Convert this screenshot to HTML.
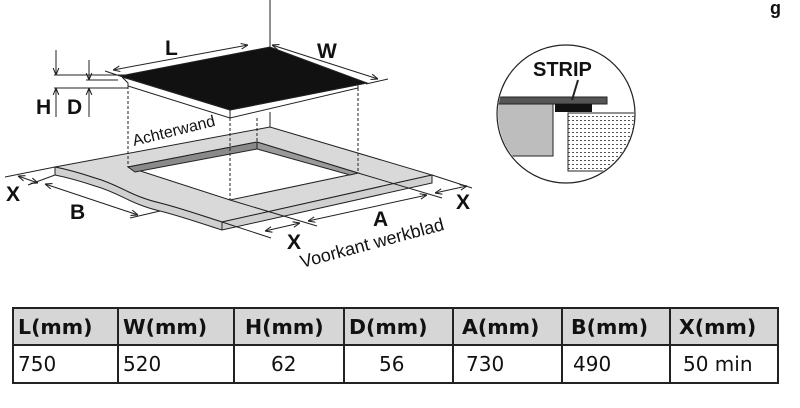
<!DOCTYPE html>
<html><head><meta charset="utf-8"><style>
body{margin:0;background:#fff;width:800px;height:408px;overflow:hidden;font-family:"DejaVu Sans",sans-serif}
svg{position:absolute;left:0;top:0}
table{position:absolute;left:12px;top:307px;border-collapse:collapse}
td{border:2px solid #222;height:38px;padding:0 0 0 4px;font-size:20px;color:#111;box-sizing:border-box;white-space:nowrap}
tr.h td{background:#d6d6d6;font-weight:bold;height:37px;font-size:20.5px}
</style></head><body>
<svg width="800" height="408" viewBox="0 0 800 408">
<defs><marker id="a" viewBox="0 0 10 10" refX="10" refY="5" markerWidth="7" markerHeight="7" orient="auto-start-reverse"><path d="M0,1L10,5L0,9" fill="none" stroke="#222" stroke-width="1.5"/></marker>
<pattern id="p" width="4" height="4" patternUnits="userSpaceOnUse"><rect width="4" height="4" fill="#fff"/><rect width="2" height="1" fill="#555"/></pattern></defs>
<g stroke="#222" stroke-width="1" fill="none">
<path d="M55,167 L270,127 L432,175 L222,222 C200,215 180,208 160,203 C130,196 120,185 95,178 C80,173 70,170 55,167Z" fill="#d9d9d9"/>
<path d="M55,167 L55,175 C70,178 80,181 95,186 C120,193 130,204 160,211 C180,216 200,223 222,230 L432,183 L432,175 L222,222 C200,215 180,208 160,203 C130,196 120,185 95,178 C80,173 70,170 55,167Z" fill="#d0d0d0"/>
<line x1="222" y1="222" x2="222" y2="230"/>
<path d="M128,167 L257,142 L358,173 L230,200Z" fill="#fff"/>
<path d="M128,167 L257,142 L257,149 L135,172Z" fill="#8a8a8a"/>
<path d="M257,142 L358,173 L350,175 L257,149Z" fill="#9a9a9a"/>
<line x1="5" y1="177" x2="55" y2="167"/>
<line x1="230" y1="200" x2="317" y2="226"/>
<line x1="358" y1="173" x2="442" y2="198"/>
<line x1="222" y1="222" x2="271" y2="238"/>
<line x1="432" y1="175" x2="472" y2="188"/>
<line x1="28" y1="185" x2="55" y2="175"/>
<line x1="130" y1="218" x2="160" y2="211"/>
<line x1="18" y1="176" x2="38" y2="183" marker-start="url(#a)" marker-end="url(#a)"/>
<line x1="45" y1="184" x2="138" y2="215" marker-start="url(#a)" marker-end="url(#a)"/>
<line x1="265" y1="231" x2="300" y2="223" marker-start="url(#a)" marker-end="url(#a)"/>
<line x1="308" y1="221" x2="427" y2="195" marker-start="url(#a)" marker-end="url(#a)"/>
<line x1="435" y1="193" x2="467" y2="186" marker-start="url(#a)" marker-end="url(#a)"/>
<g stroke-dasharray="3,2"><line x1="128" y1="86" x2="128" y2="167"/><line x1="230" y1="118" x2="230" y2="200"/><line x1="257" y1="118" x2="257" y2="142"/><line x1="358" y1="88" x2="358" y2="173"/></g>
<line x1="270" y1="0" x2="270" y2="47"/>
<line x1="270" y1="112" x2="270" y2="127"/>
<path d="M122,77 L128,83 L128,86 L230,118 L358,88 L358,83 L367,83 L230,110 Z" fill="#fff"/>
<line x1="230" y1="110" x2="230" y2="118"/>
<path d="M120,76 L270,47 L367,83 L230,110Z" fill="#111"/>
<line x1="105" y1="71" x2="120" y2="76"/>
<line x1="113" y1="70" x2="248" y2="45" marker-start="url(#a)" marker-end="url(#a)"/>
<line x1="272" y1="45" x2="378" y2="79" marker-start="url(#a)" marker-end="url(#a)"/>
<line x1="366" y1="84" x2="388" y2="79"/>
<line x1="54" y1="75" x2="128" y2="75"/><line x1="54" y1="88" x2="128" y2="88"/><line x1="86" y1="80" x2="118" y2="80"/>
<line x1="56" y1="50" x2="56" y2="75" marker-end="url(#a)"/><line x1="56" y1="117" x2="56" y2="88" marker-end="url(#a)"/>
<line x1="89" y1="60" x2="89" y2="80" marker-end="url(#a)"/><line x1="89" y1="117" x2="89" y2="88" marker-end="url(#a)"/>
</g>
<g font-family="Liberation Sans,sans-serif" font-weight="bold" font-size="21" fill="#111">
<text x="165" y="55">L</text><text x="317" y="58">W</text><text x="36" y="114">H</text><text x="67" y="114">D</text>
<text x="6" y="201">X</text><text x="70" y="219">B</text><text x="373" y="226">A</text><text x="287" y="249">X</text><text x="456" y="209">X</text>
</g>
<g font-family="Liberation Sans,sans-serif" font-size="16" fill="#111">
<text transform="translate(134,146) rotate(-14)">Achterwand</text>
<text transform="translate(302,268) rotate(-15)" font-size="18">Voorkant werkblad</text>
</g>
<circle cx="566" cy="114" r="69" fill="#fff" stroke="#222" stroke-width="1.2"/>
<clipPath id="c"><circle cx="566" cy="114" r="68"/></clipPath>
<g clip-path="url(#c)">
<rect x="495" y="97" width="112" height="7" fill="#555" stroke="#222"/>
<rect x="555" y="104" width="37" height="8" fill="#111"/>
<rect x="495" y="104" width="58" height="52" fill="#bdbdbd" stroke="#222"/>
<rect x="568" y="113" width="70" height="58" fill="url(#p)" stroke="#222"/>
</g>
<line x1="578" y1="80" x2="572" y2="100" stroke="#222" stroke-width="2"/>
<text x="533" y="76" font-family="Liberation Sans,sans-serif" font-weight="bold" font-size="20" fill="#111">STRIP</text>
<text x="770" y="14" font-family="Liberation Sans,sans-serif" font-weight="bold" font-size="18" fill="#111">g</text>
</svg>
<table><tr class="h"><td style="width:105px">L(mm)</td><td style="width:116px">W(mm)</td><td style="width:110px;padding-left:10px">H(mm)</td><td style="width:109px">D(mm)</td><td style="width:109px;padding-left:8px">A(mm)</td><td style="width:108px;padding-left:8px">B(mm)</td><td style="width:108px;padding-left:8px">X(mm)</td></tr>
<tr><td>750</td><td>520</td><td style="padding-left:36px">62</td><td style="padding-left:34px">56</td><td style="padding-left:12px">730</td><td style="padding-left:10px">490</td><td style="padding-left:12px">50 min</td></tr></table>
</body></html>
